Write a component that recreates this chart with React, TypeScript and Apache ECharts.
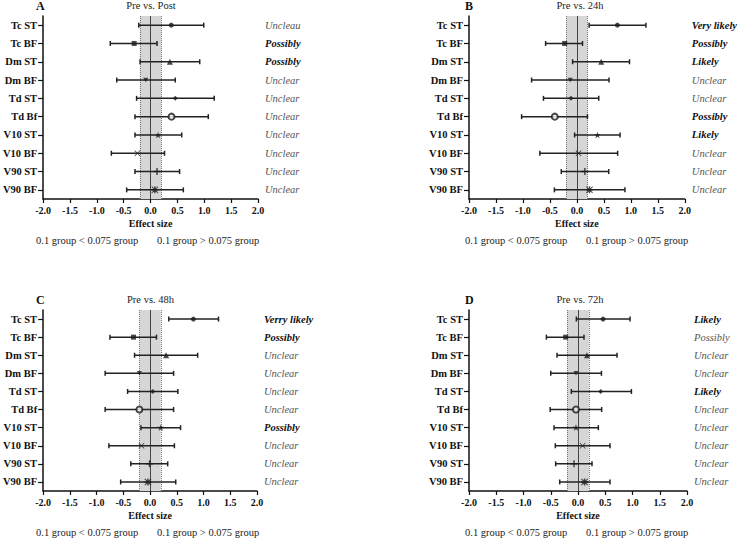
import React, { useEffect, useRef } from "react";
import * as echarts from "echarts";

const categories = ["Tc ST", "Tc BF", "Dm ST", "Dm BF", "Td ST", "Td Bf", "V10 ST", "V10 BF", "V90 ST", "V90 BF"];

const panelLetters = ["A", "B", "C", "D"];
const panelTitles = ["Pre vs. Post", "Pre vs. 24h", "Pre vs. 48h", "Pre vs. 72h"];

const estA = [0.385, -0.305, 0.36, -0.09, 0.46, 0.39, 0.14, -0.245, 0.12, 0.08];
const loA = [-0.22, -0.75, -0.195, -0.63, -0.26, -0.29, -0.29, -0.73, -0.29, -0.445];
const hiA = [0.99, 0.12, 0.915, 0.46, 1.185, 1.075, 0.58, 0.26, 0.54, 0.61];

const estB = [0.75, -0.227, 0.45, -0.123, -0.11, -0.41, 0.38, 0.03, 0.147, 0.233];
const loB = [0.227, -0.58, -0.08, -0.84, -0.62, -1.025, -0.043, -0.687, -0.29, -0.417];
const hiB = [1.28, 0.104, 0.975, 0.595, 0.405, 0.196, 0.8, 0.755, 0.59, 0.89];

const estC = [0.81, -0.31, 0.3, -0.2, 0.05, -0.2, 0.2, -0.16, -0.01, -0.04];
const loC = [0.35, -0.75, -0.29, -0.84, -0.42, -0.84, -0.17, -0.77, -0.36, -0.55];
const hiC = [1.28, 0.12, 0.89, 0.44, 0.52, 0.44, 0.57, 0.455, 0.33, 0.48];

const estD = [0.46, -0.226, 0.165, -0.037, 0.416, -0.037, -0.037, 0.086, -0.073, 0.12];
const loD = [-0.03, -0.58, -0.385, -0.5, -0.122, -0.51, -0.44, -0.416, -0.41, -0.336];
const hiD = [0.955, 0.11, 0.716, 0.43, 0.98, 0.434, 0.373, 0.587, 0.257, 0.587];

const labelsA = ["Uncleau", "Possibly", "Possibly", "Unclear", "Unclear", "Unclear", "Unclear", "Unclear", "Unclear", "Unclear"];
const boldA = [0, 1, 1, 0, 0, 0, 0, 0, 0, 0];
const labelsB = ["Very likely", "Possibly", "Likely", "Unclear", "Unclear", "Possibly", "Likely", "Unclear", "Unclear", "Unclear"];
const boldB = [1, 1, 1, 0, 0, 1, 1, 0, 0, 0];
const labelsC = ["Verry likely", "Possibly", "Unclear", "Unclear", "Unclear", "Unclear", "Possibly", "Unclear", "Unclear", "Unclear"];
const boldC = [1, 1, 0, 0, 0, 0, 1, 0, 0, 0];
const labelsD = ["Likely", "Possibly", "Unclear", "Unclear", "Likely", "Unclear", "Unclear", "Unclear", "Unclear", "Unclear"];
const boldD = [1, 0, 0, 0, 1, 0, 0, 0, 0, 0];

const xMin = -2;
const xMax = 2;
const xInterval = 0.5;
const bandLo = -0.2;
const bandHi = 0.2;
const footLeft = "0.1 group < 0.075 group";
const footRight = "0.1 group > 0.075 group";
const xName = "Effect size";

const FONT = "'Liberation Serif', 'Times New Roman', serif";

const markerSymbols = [
  "circle",
  "rect",
  "triangle",
  "path://M0,0L10,0L5,9Z",
  "diamond",
  "emptyCircle",
  "path://M5,0L6.2,3.6L10,3.6L6.9,5.8L8.1,9.5L5,7.2L1.9,9.5L3.1,5.8L0,3.6L3.8,3.6Z",
  "path://M1,0L5,4L9,0L10,1L6,5L10,9L9,10L5,6L1,10L0,9L4,5L0,1Z",
  "path://M4,0H6V4H10V6H6V10H4V6H0V4H4Z",
  "path://M4,0H6V4H10V6H6V10H4V6H0V4H4Z M1,0L5,4L9,0L10,1L6,5L10,9L9,10L5,6L1,10L0,9L4,5L0,1Z",
];
const markerSizes = [5, 5, 6, 5, 5, 6, 7, 6, 7, 7];

const panels = [
  { est: estA, lo: loA, hi: hiA, labels: labelsA, bold: boldA },
  { est: estB, lo: loB, hi: hiB, labels: labelsB, bold: boldB },
  { est: estC, lo: loC, hi: hiC, labels: labelsC, bold: boldC },
  { est: estD, lo: loD, hi: hiD, labels: labelsD, bold: boldD },
];

const grids = [
  { left: 40, top: 16, width: 218, height: 183 },
  { left: 469, top: 16, width: 218, height: 183 },
  { left: 40, top: 310, width: 217, height: 181 },
  { left: 469, top: 310, width: 218, height: 181 },
];

export default function App() {
  const ref = useRef<HTMLDivElement>(null);

  useEffect(() => {
    document.body.style.margin = "0";
    if (!ref.current) return;
    const chart = echarts.init(ref.current, undefined, { renderer: "svg" });

    const xAxes: any[] = [];
    const yAxes: any[] = [];
    const series: any[] = [];
    const graphics: any[] = [];

    panels.forEach((p, i) => {
      const g = grids[i];
      xAxes.push({
        type: "value",
        gridIndex: i,
        min: xMin,
        max: xMax,
        interval: xInterval,
        name: xName,
        nameLocation: "middle",
        nameGap: 19,
        nameTextStyle: { fontFamily: FONT, fontWeight: "bold", fontSize: 10, color: "#111" },
        axisLine: { show: true, onZero: false, lineStyle: { color: "#111", width: 1.5 } },
        axisTick: { show: true, length: 4, lineStyle: { color: "#111", width: 1.2 } },
        axisLabel: {
          margin: 6,
          fontFamily: FONT,
          fontWeight: "bold",
          fontSize: 10,
          color: "#111",
          formatter: (v: number) => v.toFixed(1),
        },
        splitLine: { show: false },
      });
      yAxes.push({
        type: "category",
        gridIndex: i,
        data: categories.slice(),
        inverse: true,
        axisLine: { show: true, onZero: false, lineStyle: { color: "#111", width: 1.5 } },
        axisTick: { show: true, alignWithLabel: true, length: 5, lineStyle: { color: "#111", width: 1.2 } },
        axisLabel: { margin: 6, fontFamily: FONT, fontWeight: "bold", fontSize: 10.5, color: "#111" },
        splitLine: { show: false },
      });
      yAxes.push({
        type: "category",
        gridIndex: i,
        data: categories.slice(),
        inverse: true,
        position: "right",
        axisLine: { show: false },
        axisTick: { show: false },
        axisLabel: {
          margin: 7,
          formatter: (_v: string, idx: number) =>
            p.bold[idx] ? `{b|${p.labels[idx]}}` : `{n|${p.labels[idx]}}`,
          rich: {
            b: { fontFamily: FONT, fontWeight: "bold", fontStyle: "italic", fontSize: 10.5, color: "#111" },
            n: { fontFamily: FONT, fontStyle: "italic", fontSize: 10.5, color: "#555" },
          },
        },
        splitLine: { show: false },
      });

      series.push({
        type: "custom",
        xAxisIndex: i,
        yAxisIndex: i * 2,
        encode: { x: 0, y: 2 },
        dimensions: ["lo", "hi", "cat"],
        data: p.lo.map((lo, k) => [lo, p.hi[k], k]),
        z: 3,
        renderItem: (_params: any, api: any) => {
          const yv = api.value(2);
          const a = api.coord([api.value(0), yv]);
          const b = api.coord([api.value(1), yv]);
          const h = 2.5;
          const st = { stroke: "#222", lineWidth: 1.5, fill: null };
          return {
            type: "group",
            children: [
              { type: "line", shape: { x1: a[0], y1: a[1], x2: b[0], y2: b[1] }, style: st },
              { type: "line", shape: { x1: a[0], y1: a[1] - h, x2: a[0], y2: a[1] + h }, style: st },
              { type: "line", shape: { x1: b[0], y1: b[1] - h, x2: b[0], y2: b[1] + h }, style: st },
            ],
          };
        },
      });

      series.push({
        type: "scatter",
        xAxisIndex: i,
        yAxisIndex: i * 2,
        z: 4,
        symbolKeepAspect: true,
        data: p.est.map((v, k) => ({
          value: [v, k],
          symbol: markerSymbols[k],
          symbolSize: markerSizes[k],
          itemStyle: { color: "#1a1a1a", borderColor: "#333", borderWidth: k === 5 ? 1.5 : 0 },
        })),
        markArea: {
          silent: true,
          z: 1,
          itemStyle: { color: "#d6d6d6" },
          data: [[{ xAxis: bandLo }, { xAxis: bandHi }]],
        },
        markLine: {
          silent: true,
          z: 2,
          symbol: "none",
          label: { show: false },
          data: [
            { xAxis: bandLo, lineStyle: { color: "#777", type: "dotted", width: 1 } },
            { xAxis: bandHi, lineStyle: { color: "#777", type: "dotted", width: 1 } },
            { xAxis: 0, lineStyle: { color: "#444", type: "solid", width: 1 } },
          ],
        },
      });

      const cx = g.left + g.width / 2;
      graphics.push({
        type: "text",
        x: g.left - 4,
        y: g.top - 10,
        style: { text: panelLetters[i], font: `bold 12px ${FONT}`, fill: "#111", verticalAlign: "middle", align: "left" },
      });
      graphics.push({
        type: "text",
        x: cx + 2,
        y: g.top - 10.5,
        style: { text: panelTitles[i], font: `10.5px ${FONT}`, fill: "#222", verticalAlign: "middle", align: "center" },
      });
      const fy = g.top + g.height + 41.5;
      graphics.push({
        type: "text",
        x: g.left - 4,
        y: fy,
        style: { text: footLeft, font: `10.5px ${FONT}`, fill: "#222", verticalAlign: "middle", align: "left" },
      });
      graphics.push({
        type: "text",
        x: g.left + 117,
        y: fy,
        style: { text: footRight, font: `10.5px ${FONT}`, fill: "#222", verticalAlign: "middle", align: "left" },
      });
    });

    chart.setOption({
      animation: false,
      backgroundColor: "#fff",
      textStyle: { fontFamily: FONT },
      grid: grids.map((g) => ({ ...g, containLabel: false })),
      xAxis: xAxes,
      yAxis: yAxes,
      series,
      graphic: graphics,
    });

    return () => chart.dispose();
  }, []);

  return <div ref={ref} style={{ width: 740, height: 539 }} />;
}
